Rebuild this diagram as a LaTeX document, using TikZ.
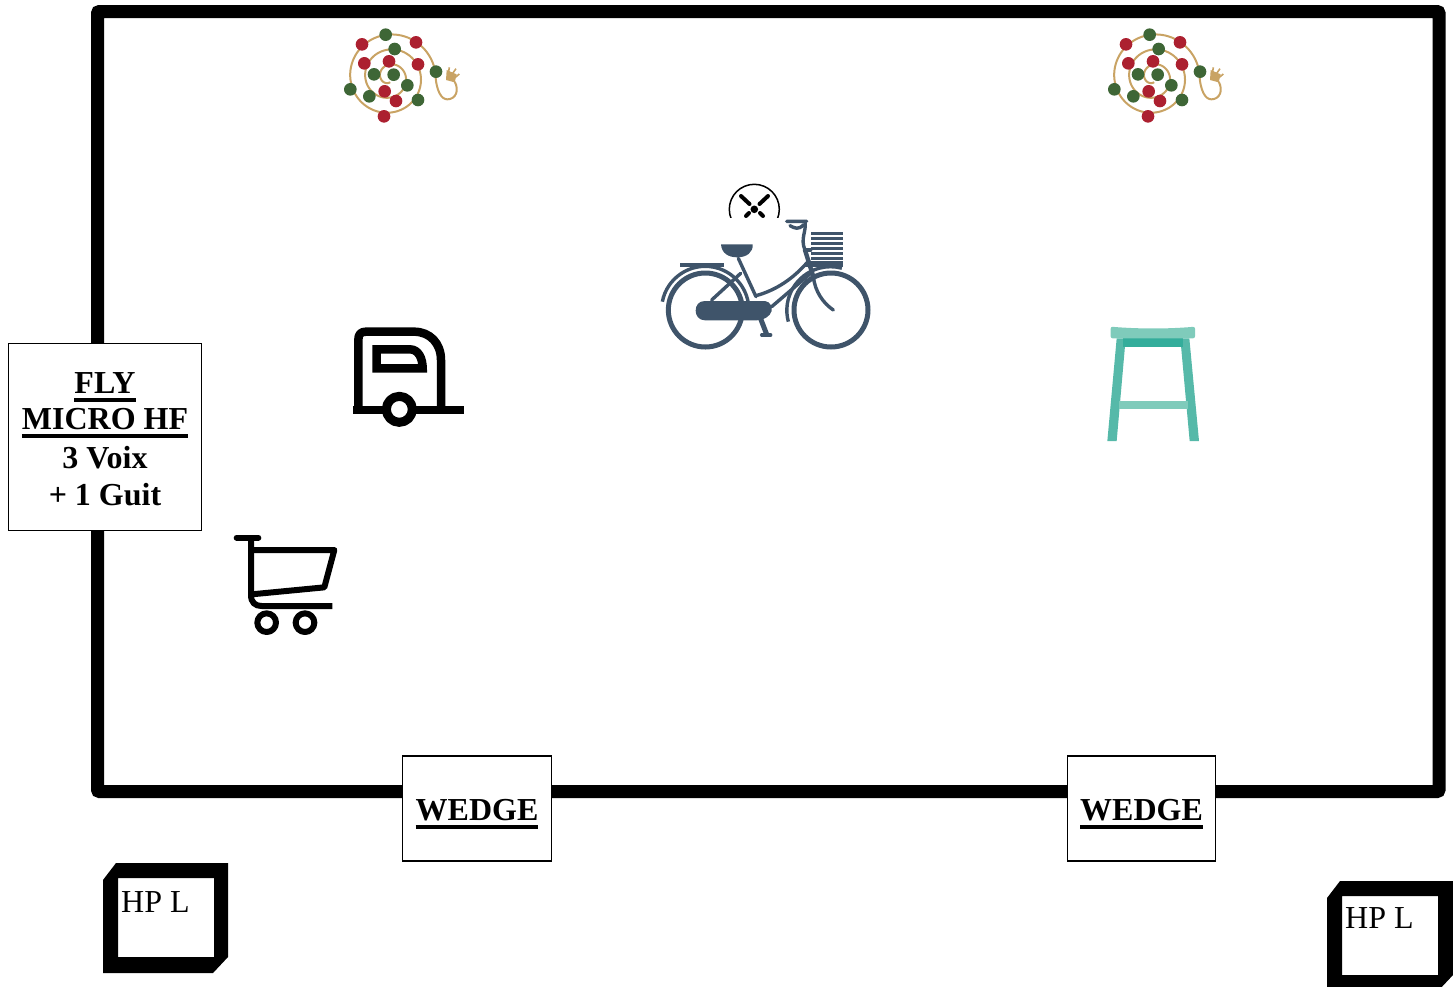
\documentclass[tikz,border=0pt]{standalone}
\usepackage{fontspec}
\setmainfont{Liberation Serif}
\usepackage{xcolor}
\usetikzlibrary{calc,positioning}
\definecolor{bikeBlue}{RGB}{63,84,106}
\definecolor{wireTan}{RGB}{201,163,100}
\definecolor{beadRed}{RGB}{172,32,48}
\definecolor{beadGreen}{RGB}{62,102,54}
\definecolor{stoolSeat}{RGB}{127,203,187}
\definecolor{stoolLeg}{RGB}{86,185,169}
\definecolor{stoolApron}{RGB}{52,173,155}
\newcommand{\stageul}[1]{\setbox0=\hbox{#1}\leavevmode\rlap{\rule[-8.5pt]{\wd0}{4pt}}\box0}
\tikzset{
  stagebox/.style={draw=black, fill=white, line width=1.3pt, inner sep=0pt, outer sep=0pt, align=center, font=\fontsize{32}{37.4}\selectfont\bfseries},
  hplabel/.style={inner sep=0pt, anchor=base west, font=\fontsize{32}{37}\selectfont},
  bikeline/.style={draw=bikeBlue, line width=3.4pt, line cap=round, line join=round},
  iconline/.style={draw=black, line join=round}
}
\begin{document}
\begin{tikzpicture}[x=1pt,y=-1pt]
\path[use as bounding box, clip] (0,0) rectangle (1453,986);

\draw[black, line width=13pt, rounded corners=2pt] (97.5,11.5) rectangle (1439,791.5);

% guirlandes
\foreach \gx in {0,764}{
\begin{scope}[shift={(330+\gx,20)}, scale=1/3]
\draw[wireTan, line width=2pt, smooth, samples=220, domain=6:1000]
plot ({178+(139-0.125*(\x-6))*cos(-\x)},{172+(139-0.125*(\x-6))*sin(-\x)});
\draw[wireTan, line width=2pt] (316,158) .. controls (318,215) and (335,238) .. (352,238) .. controls (378,238) and (388,210) .. (374,185);
\fill[wireTan] (350,150) -- (380,163) -- (374,187) -- (348,180) -- cycle;
\draw[wireTan, line width=1.6pt] (356,155) -- (358,142) (368,160) -- (378,146) (376,172) -- (388,162);
\foreach \bx/\by in {96/73,258/67,177/124,103/130,264/133,164/214,198/243,162/289}
  \fill[beadRed] (\bx,\by) circle[radius=19];
\foreach \bx/\by in {167/44,194/87,132/163,191/164,318/155,232/196,61/208,118/229,264/240}
  \fill[beadGreen] (\bx,\by) circle[radius=19];
\end{scope}
}

% micro
\draw[black, line width=1.5pt] (754.3,209.3) circle[radius=25];
\fill[black] (754.3,209.3) circle[radius=3.8];
\draw[black, line width=4pt, line cap=round] (741,196) -- (749.5,204) (768,196) -- (759.5,204) (746,216) -- (749,213) (763,216) -- (760,213);
\fill[white] (660,217.5) rectangle (875,240);

% velo
\begin{scope}[shift={(650,175)}, scale=1/3]
\draw[bikeline, line width=5pt] (166,405) circle[radius=111] (543,405) circle[radius=111];
\draw[bikeline, line cap=butt] (37,380) arc[start angle=191, end angle=350, radius=131];
\draw[bikeline, line cap=butt] (415,440) arc[start angle=165, end angle=285, radius=131];
\draw[bikeline, line cap=butt] (90,270) -- (222,270);
\fill[bikeBlue] (165,378) -- (345,378) .. controls (360,380) and (368,395) .. (365,408) .. controls (360,425) and (340,436) .. (320,436) -- (165,436) .. controls (145,436) and (137,420) .. (137,407) .. controls (137,392) and (145,378) .. (165,378) -- cycle;
\fill[bikeBlue] (213,208) -- (308,208) .. controls (310,232) and (290,247) .. (262,247) .. controls (235,247) and (215,235) .. (213,208) -- cycle;
\draw[bikeline] (265,250) -- (318,365);
\draw[bikeline] (185,375) -- (272,295);
\draw[bikeline] (318,362) .. controls (380,345) and (430,310) .. (472,262);
\draw[bikeline] (365,395) -- (482,295);
\draw[bikeline, line width=4.4pt] (465,225) -- (490,305);
\draw[bikeline] (490,305) .. controls (495,350) and (520,385) .. (550,405);
\draw[bikeline] (465,140) .. controls (470,170) and (450,190) .. (465,225);
\draw[bikeline] (410,139) -- (470,139) (420,152) .. controls (435,160) and (445,165) .. (460,150);
\draw[bikeline] (465,225) -- (482,225);
\foreach \sy in {175,190,205,220,235,250,262}
  \draw[bikeBlue, line width=3pt] (483,\sy) -- (580,\sy);
\draw[bikeline, line cap=butt] (465,272) -- (580,272);
\draw[bikeline, line width=5pt, line cap=butt] (323,408) -- (350,478);
\draw[bikeline] (335,480) -- (362,480);
\end{scope}

% caravane
\begin{scope}[shift={(340,315)}, scale=1/3]
\draw[iconline, line width=8.5pt] (55,285) -- (55,75) .. controls (55,58) and (62,50) .. (78,50) -- (222,50) .. controls (270,50) and (303,85) .. (303,135) -- (303,285);
\draw[iconline, line width=8.5pt] (40,285) -- (372,285);
\draw[black, line width=8.5pt, line join=miter] (110,103) -- (210,103) .. controls (235,103) and (248,130) .. (248,160) -- (110,160) -- cycle;
\draw[iconline, fill=white, line width=9pt] (178,283) circle[radius=39];
\end{scope}

% caddie
\begin{scope}[shift={(225,525)}, scale=1/3]
\draw[iconline, line width=6pt, line cap=round] (35,38) -- (100,38);
\draw[iconline, line width=6pt] (78,38) -- (78,210) .. controls (78,232) and (90,243) .. (110,243) -- (322,243);
\draw[iconline, line width=6pt] (78,75) -- (328,75) -- (298,187) -- (80,208);
\draw[iconline, line width=6pt] (125,293) circle[radius=28] (240,293) circle[radius=28];
\end{scope}

% tabouret
\begin{scope}[shift={(1095,315)}, scale=1/3]
\fill[stoolLeg] (65,70) -- (92,70) -- (65,378) -- (37,378) -- cycle;
\fill[stoolLeg] (256,70) -- (283,70) -- (312,378) -- (284,378) -- cycle;
\fill[stoolSeat] (72,258) rectangle (278,282);
\fill[stoolApron] (85,70) rectangle (265,95);
\fill[stoolSeat, rounded corners=2pt] (47,35) .. controls (130,42) and (220,42) .. (300,35) -- (300,70) -- (47,70) -- cycle;
\end{scope}

% boites
\node[stagebox, minimum width=193pt, minimum height=187pt] (flybox) at (105,437) {\rule{0pt}{26pt}\stageul{FLY}\\[-1.4pt]\stageul{MICRO HF}\\[1pt]3 Voix\\+ 1 Guit};
\node[stagebox, minimum width=148.5pt, minimum height=105pt] (wedgeleft) at (477,808.5) {\rule{0pt}{32pt}\stageul{WEDGE}};
\node[stagebox, minimum width=148.5pt, minimum height=105pt] (wedgeright) at (1141.5,808.5) {\rule{0pt}{32pt}\stageul{WEDGE}};

% HP
\fill[black, even odd rule] (103,880) -- (116,863) -- (228,863) -- (228,957) -- (213,973) -- (103,973) -- cycle (118,878) rectangle (214,957);
\fill[black, even odd rule] (1327,898) -- (1340,881) -- (1453,881) -- (1453,975) -- (1438,991) -- (1327,991) -- cycle (1342,896) rectangle (1438,975);
\node[hplabel] (hpleft) at (121,912) {HP L};
\node[hplabel] (hpright) at (1345,928) {HP L};
\end{tikzpicture}
\end{document}
